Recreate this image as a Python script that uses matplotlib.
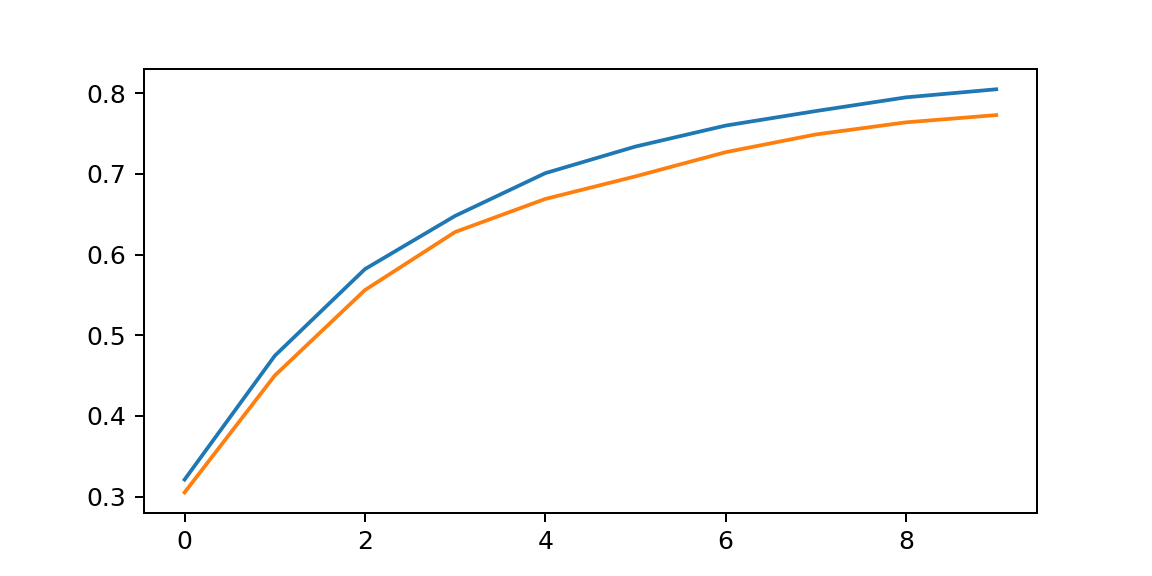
import matplotlib
matplotlib.use("Agg")
import matplotlib.pyplot as plt

epochs = list(range(10))
series_a = [0.321, 0.4745, 0.582, 0.648, 0.701, 0.734, 0.760, 0.778, 0.795, 0.805]
series_b = [0.305, 0.450, 0.556, 0.628, 0.669, 0.697, 0.727, 0.749, 0.764, 0.773]

fig, ax = plt.subplots(figsize=(6.4, 3.2), dpi=180)
ax.plot(epochs, series_a)
ax.plot(epochs, series_b)
fig.savefig("out.png")
